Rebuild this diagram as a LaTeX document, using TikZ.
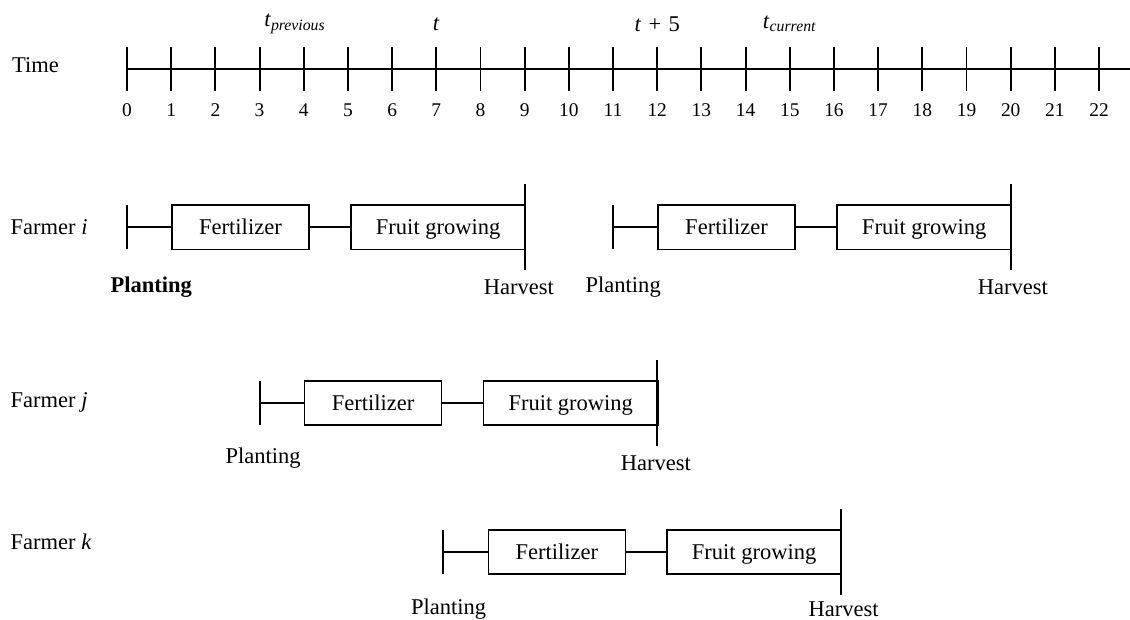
\documentclass[tikz,border=0pt]{standalone}
\usepackage{fontspec}
\setmainfont{Liberation Serif}

\begin{document}
\begin{tikzpicture}[line width=1pt,
		every node/.style={font=\fontsize{14.5}{17}\selectfont, inner sep=0pt},
		stage/.style={draw, rectangle, minimum height=1cm, text height=1em, text depth=0pt, anchor=west},
		ticklbl/.style={font=\fontsize{12.5}{15}\selectfont},
		mark line/.style={line width=1.2pt}]
		\useasboundingbox (-2.875,1.562) rectangle (22.70,-12.449);
		% time axis
		\node[anchor=west] (time) at (-2.62,0.08) {Time};
		\draw (0,0) -- (22.7,0);
		\foreach \x in {0,...,22} {
			\draw[mark line] (\x,0.5) -- (\x,-0.5);
			\node[ticklbl] (lbl\x) at (\x,-0.93) {\x};
		}
		\node (tprev) at (3.8,1.02) {\textit{t}\textsubscript{\textit{previous}}};
		\node (tnow) at (7,1.02) {\textit{t}};
		\node (tfive) at (12,1.02) {\textit{t}\hspace{0.32em}+\hspace{0.32em}5};
		\node (tcur) at (15,1.02) {\textit{t}\textsubscript{\textit{current}}};
		% farmer i
		\node[anchor=west] (fi) at (-2.65,-3.57) {Farmer \textit{i}};
		\coordinate (pi1) at (0,-3.58);
		\draw[mark line] (0,-3.08) -- (0,-4.08);
		\node[stage, minimum width=3.1cm] (fert1) at (1,-3.58) {Fertilizer};
		\node[stage, minimum width=3.95cm] (grow1) at (5.05,-3.58) {Fruit growing};
		\draw (pi1) -- (fert1);
		\draw (fert1) -- (grow1);
		\draw[mark line] (9,-2.61) -- (9,-4.55);
		\node[font=\fontsize{14.5}{17}\selectfont\bfseries] (plant1) at (0.55,-4.94) {Planting};
		\node (harv1) at (8.87,-4.94) {Harvest};
		\coordinate (pi2) at (11,-3.58);
		\draw[mark line] (11,-3.08) -- (11,-4.08);
		\node[stage, minimum width=3.1cm] (fert2) at (12,-3.58) {Fertilizer};
		\node[stage, minimum width=3.95cm] (grow2) at (16.05,-3.58) {Fruit growing};
		\draw (pi2) -- (fert2);
		\draw (fert2) -- (grow2);
		\draw[mark line] (20,-2.61) -- (20,-4.55);
		\node (plant2) at (11.23,-4.94) {Planting};
		\node (harv2) at (20.05,-4.94) {Harvest};
		% farmer j
		\node[anchor=west] (fj) at (-2.65,-7.54) {Farmer \textit{j}};
		\coordinate (pj) at (3,-7.56);
		\draw[mark line] (3,-7.07) -- (3,-8.05);
		\node[stage, minimum width=3.1cm] (fert3) at (4,-7.56) {Fertilizer};
		\node[stage, minimum width=3.95cm] (grow3) at (8.05,-7.56) {Fruit growing};
		\draw (pj) -- (fert3);
		\draw (fert3) -- (grow3);
		\draw[mark line] (12,-6.59) -- (12,-8.53);
		\node (plant3) at (3.08,-8.80) {Planting};
		\node (harv3) at (11.97,-8.92) {Harvest};
		% farmer k
		\node[anchor=west] (fk) at (-2.65,-10.71) {Farmer \textit{k}};
		\coordinate (pk) at (7.15,-10.93);
		\draw[mark line] (7.15,-10.44) -- (7.15,-11.42);
		\node[stage, minimum width=3.1cm] (fert4) at (8.16,-10.93) {Fertilizer};
		\node[stage, minimum width=3.95cm] (grow4) at (12.2,-10.93) {Fruit growing};
		\draw (pk) -- (fert4);
		\draw (fert4) -- (grow4);
		\draw[mark line] (16.15,-9.95) -- (16.15,-11.91);
		\node (plant4) at (7.28,-12.22) {Planting};
		\node (harv4) at (16.22,-12.22) {Harvest};
	\end{tikzpicture}
\end{document}
